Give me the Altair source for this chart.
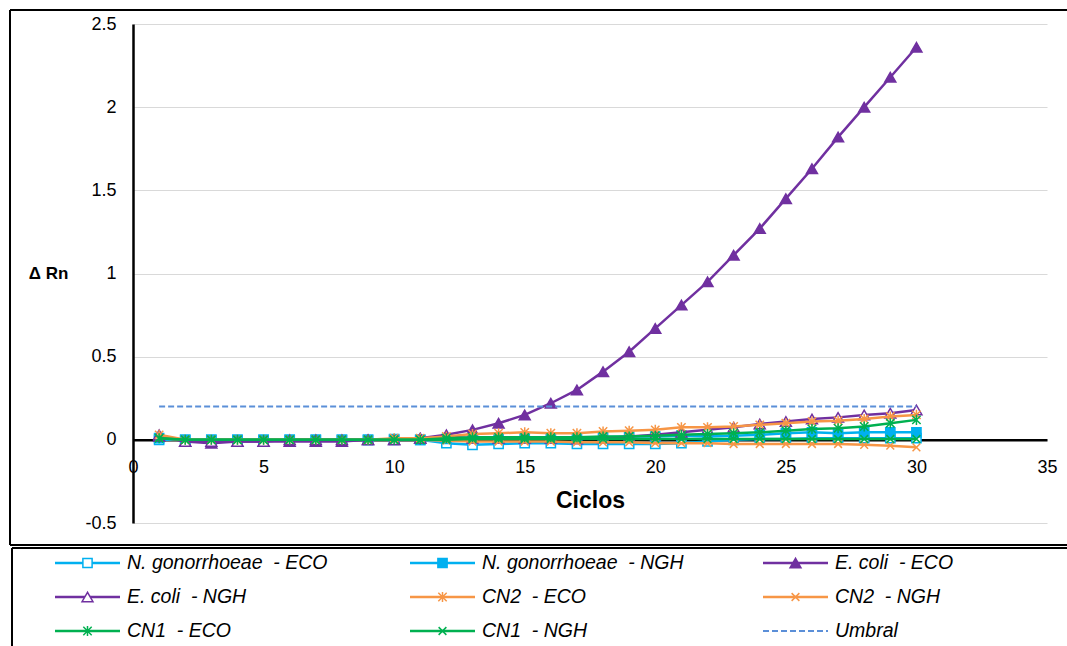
import altair as alt
import pandas as pd

# Ciclo de amplificación (eje X)
cycles = list(range(1, 31))

# ΔRn por ciclo para cada muestra / sonda
ng_eco = [0.00, 0.00, 0.00, 0.00, 0.00, 0.00, 0.00, 0.00, 0.00, 0.005,
          0.00, -0.02, -0.03, -0.025, -0.02, -0.02, -0.025, -0.025, -0.025, -0.025,
          -0.02, -0.01, 0.00, 0.005, 0.005, 0.01, 0.01, 0.01, 0.01, 0.01]
ng_ngh = [0.01, 0.00, 0.00, 0.00, 0.00, 0.00, 0.00, 0.00, 0.00, 0.00,
          0.00, 0.005, 0.01, 0.01, 0.01, 0.01, 0.01, 0.015, 0.02, 0.02,
          0.025, 0.02, 0.025, 0.03, 0.04, 0.045, 0.04, 0.045, 0.045, 0.045]
ec_eco = [0.02, -0.01, -0.02, -0.01, -0.01, -0.01, -0.01, -0.01, 0.00, 0.00,
          0.01, 0.03, 0.06, 0.10, 0.15, 0.22, 0.30, 0.41, 0.53, 0.67,
          0.81, 0.95, 1.11, 1.27, 1.45, 1.63, 1.82, 2.00, 2.18, 2.36]
ec_ngh = [0.03, -0.01, -0.01, -0.01, -0.01, 0.00, 0.00, 0.00, 0.00, 0.00,
          0.01, 0.02, 0.01, 0.01, 0.01, 0.01, 0.005, 0.01, 0.02, 0.03,
          0.045, 0.06, 0.075, 0.095, 0.11, 0.125, 0.135, 0.15, 0.16, 0.18]
cn2_eco = [0.03, 0.00, 0.00, 0.00, 0.00, 0.00, 0.00, 0.00, 0.00, 0.01,
           0.01, 0.02, 0.035, 0.04, 0.045, 0.04, 0.04, 0.05, 0.055, 0.06,
           0.075, 0.075, 0.08, 0.09, 0.10, 0.11, 0.115, 0.125, 0.14, 0.15]
cn2_ngh = [0.01, 0.00, 0.00, 0.00, 0.00, 0.00, 0.00, 0.00, 0.00, 0.00,
           0.00, -0.005, -0.01, -0.01, -0.01, -0.01, -0.015, -0.015, -0.015, -0.02,
           -0.02, -0.02, -0.025, -0.025, -0.025, -0.025, -0.025, -0.03, -0.035, -0.045]
cn1_eco = [0.01, 0.00, 0.00, 0.00, 0.00, 0.00, 0.00, 0.00, 0.00, 0.00,
           0.00, 0.01, 0.015, 0.015, 0.015, 0.015, 0.015, 0.02, 0.02, 0.025,
           0.03, 0.035, 0.04, 0.045, 0.055, 0.065, 0.07, 0.08, 0.10, 0.12]
cn1_ngh = [0.01, 0.00, 0.00, 0.00, 0.00, 0.00, 0.00, 0.00, 0.00, 0.00,
           0.00, 0.00, 0.005, 0.005, 0.005, 0.005, 0.005, 0.005, 0.005, 0.005,
           0.005, 0.005, 0.005, 0.005, 0.005, 0.005, 0.005, 0.005, 0.005, 0.005]
umbral = [0.2] * 30

NB = "\u00a0"  # espacio duro: conserva los dos espacios en SVG
series_names = [
    f"N. gonorrhoeae {NB}- ECO", f"N. gonorrhoeae {NB}- NGH", f"E. coli {NB}- ECO",
    f"E. coli {NB}- NGH", f"CN2 {NB}- ECO", f"CN2 {NB}- NGH",
    f"CN1 {NB}- ECO", f"CN1 {NB}- NGH", "Umbral",
]
series_values = [ng_eco, ng_ngh, ec_eco, ec_ngh, cn2_eco, cn2_ngh, cn1_eco, cn1_ngh, umbral]

# Estilo de cada serie: color, marcador, relleno
ASTER = "M-1,-1L1,1M-1,1L1,-1M0,-1.2L0,1.2"
XMARK = "M-1,-1L1,1M-1,1L1,-1"
CYAN, PURPLE, ORANGE, GREEN, BLUE = "#00B0F0", "#7030A0", "#F79646", "#00B050", "#5B8FD8"
styles = [
    dict(color=CYAN, shape="square", fill="white", size=85),
    dict(color=CYAN, shape="square", fill=CYAN, size=85),
    dict(color=PURPLE, shape="triangle-up", fill=PURPLE, size=120),
    dict(color=PURPLE, shape="triangle-up", fill="white", size=120),
    dict(color=ORANGE, shape=ASTER, fill=None, size=70),
    dict(color=ORANGE, shape=XMARK, fill=None, size=60),
    dict(color=GREEN, shape=ASTER, fill=None, size=70),
    dict(color=GREEN, shape=XMARK, fill=None, size=60),
    dict(color=BLUE, shape=None, fill=None, size=0, dash=[6, 3]),
]

W, H = 914, 499
FONT = "Liberation Sans"
TOTAL_W, TOTAL_H = 1067, 646

x_scale = alt.Scale(domain=[0, 35], nice=False, zero=False)
y_scale = alt.Scale(domain=[-0.5, 2.5], nice=False, zero=False)

x_axis = alt.Axis(
    values=list(range(0, 36, 5)), labelExpr="'' + datum.value",
    grid=False, ticks=False, domainColor="black", domainWidth=2.5,
    offset=-H * 0.5 / 3.0, labelPadding=19, labelFontSize=18, labelFont=FONT,
    labelColor="black", labelFlush=False,
    title="Ciclos", titleFontSize=23, titleFont=FONT, titleFontWeight="bold",
    titleColor="black", titlePadding=13,
)
y_axis = alt.Axis(
    values=[-0.5, 0, 0.5, 1, 1.5, 2, 2.5], labelExpr="'' + datum.value",
    grid=True, gridColor="#D9D9D9", gridWidth=1, ticks=False,
    domainColor="black", domainWidth=2.5, labelPadding=17, labelFontSize=18,
    labelFont=FONT, labelColor="black", labelFlush=False,
    title="Δ Rn", titleAngle=0, titleX=-85, titleY=249, titleAlign="center",
    titleBaseline="middle", titleFontSize=17, titleFont=FONT,
    titleFontWeight="bold", titleColor="black",
)


def xy():
    return dict(
        x=alt.X("cycle:Q", scale=x_scale, axis=x_axis),
        y=alt.Y("value:Q", scale=y_scale, axis=y_axis),
    )


layers = []

# Marco exterior del gráfico y recuadro de la leyenda (bordes superior, izquierdo e inferior)
one = pd.DataFrame({"k": [0]})
frame_kw = dict(color="black", strokeWidth=2)
RIGHT = TOTAL_W - 133
BOTTOM = TOTAL_H - 24
frame_lines = [
    (-123, RIGHT, -14, -14),          # borde superior
    (-123, -123, -14, H + 22),        # borde izquierdo
    (-123, RIGHT, H + 22, H + 22),    # borde inferior del gráfico
    (-121, RIGHT, H + 25, H + 25),    # borde superior de la leyenda
    (-121, -121, H + 25, BOTTOM),     # borde izquierdo de la leyenda
]
for xa, xb, ya, yb in frame_lines:
    layers.append(
        alt.Chart(one).mark_rule(**frame_kw).encode(
            x=alt.value(xa), x2=alt.value(xb), y=alt.value(ya), y2=alt.value(yb)
        )
    )

# Curvas de amplificación
for name, vals, st in zip(series_names, series_values, styles):
    df = pd.DataFrame({"cycle": cycles, "value": vals, "serie": name})
    line_kw = dict(color=st["color"], strokeWidth=2.5)
    if st.get("dash"):
        line_kw.update(strokeDash=st["dash"], strokeWidth=2)
    layers.append(alt.Chart(df).mark_line(**line_kw).encode(**xy()))
    if st["shape"]:
        if st["fill"] is None:
            pt = alt.Chart(df).mark_point(
                shape=st["shape"], size=st["size"], filled=False,
                stroke=st["color"], strokeWidth=1.5, opacity=1,
            )
        else:
            pt = alt.Chart(df).mark_point(
                shape=st["shape"], size=st["size"], filled=True,
                fill=st["fill"], stroke=st["color"], strokeWidth=1.5, opacity=1,
            )
        layers.append(pt.encode(**xy()))

# Leyenda: 3 columnas x 3 filas bajo el área de trazado
col_left = [-78, 277, 630]
row_y = [H + 40, H + 74, H + 108]
line_len = 65
for i, (name, st) in enumerate(zip(series_names, styles)):
    c, r = i % 3, i // 3
    x0 = col_left[c]
    y0 = row_y[r]
    ldf = pd.DataFrame({"label": [name]})
    rule_kw = dict(color=st["color"], strokeWidth=2.5)
    if st.get("dash"):
        rule_kw.update(strokeDash=st["dash"], strokeWidth=2)
    layers.append(
        alt.Chart(ldf).mark_rule(**rule_kw).encode(
            x=alt.value(x0), x2=alt.value(x0 + line_len), y=alt.value(y0)
        )
    )
    if st["shape"]:
        if st["fill"] is None:
            m = alt.Chart(ldf).mark_point(
                shape=st["shape"], size=st["size"], filled=False,
                stroke=st["color"], strokeWidth=1.5, opacity=1,
            )
        else:
            m = alt.Chart(ldf).mark_point(
                shape=st["shape"], size=st["size"], filled=True,
                fill=st["fill"], stroke=st["color"], strokeWidth=1.5, opacity=1,
            )
        layers.append(m.encode(x=alt.value(x0 + line_len / 2), y=alt.value(y0)))
    layers.append(
        alt.Chart(ldf).mark_text(
            align="left", baseline="middle", font=FONT, fontSize=19.5,
            fontStyle="italic", color="black",
        ).encode(x=alt.value(x0 + line_len + 7), y=alt.value(y0), text="label:N")
    )

chart = (
    alt.layer(*layers)
    .properties(
        width=W, height=H,
        autosize=alt.AutoSizeParams(type="none"),
        padding={"left": 133, "top": 24, "right": TOTAL_W - 133 - W, "bottom": TOTAL_H - 24 - H},
        background="white",
    )
    .configure_view(stroke=None)
)

chart.save("out.html", embed_options={"renderer": "svg", "actions": False})
